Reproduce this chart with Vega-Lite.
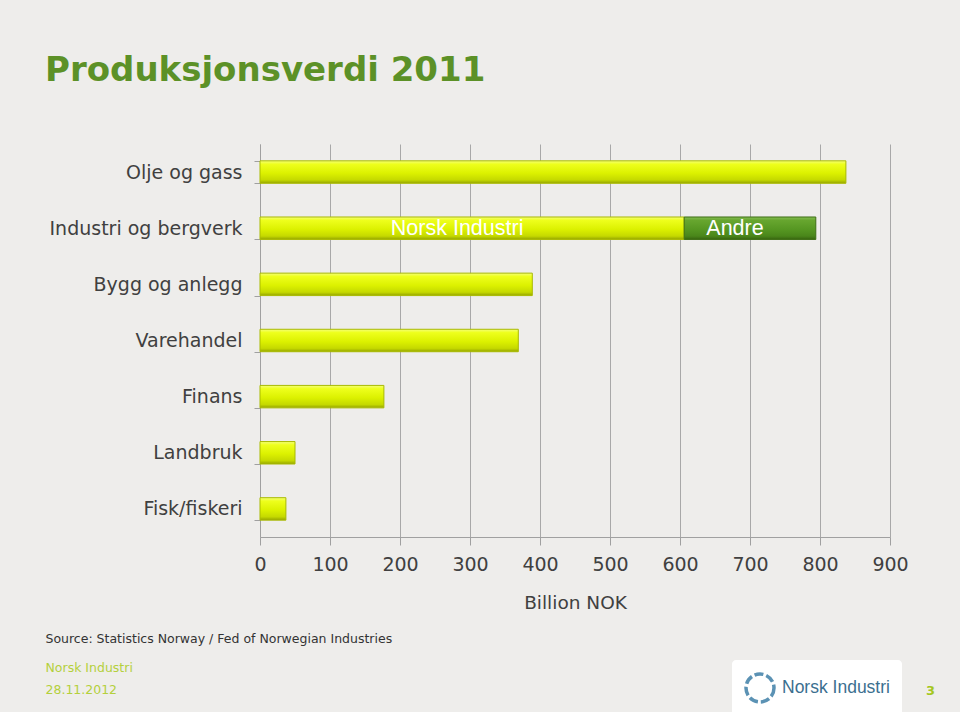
{
  "$schema": "https://vega.github.io/schema/vega-lite/v6.json",
  "width": 630,
  "height": 393,
  "autosize": {"type": "none"},
  "padding": {"left": 260, "top": 144, "right": 70, "bottom": 175},
  "background": "#EEEDEB",
  "title": {
    "text": "Produksjonsverdi 2011",
    "anchor": "start",
    "frame": "group",
    "dx": -215,
    "offset": 20,
    "baseline": "alphabetic",
    "font": "DejaVu Sans",
    "fontWeight": "bold",
    "fontSize": 34,
    "color": "#5C9127"
  },
  "config": {"view": {"stroke": null}},
  "data": {
    "values": [
      {"cat": "Olje og gass", "seg": "Total", "part": 1, "value": 837},
      {"cat": "Industri og bergverk", "seg": "Norsk Industri", "part": 1, "value": 606},
      {"cat": "Industri og bergverk", "seg": "Andre", "part": 2, "value": 188},
      {"cat": "Bygg og anlegg", "seg": "Total", "part": 1, "value": 389},
      {"cat": "Varehandel", "seg": "Total", "part": 1, "value": 369},
      {"cat": "Finans", "seg": "Total", "part": 1, "value": 177},
      {"cat": "Landbruk", "seg": "Total", "part": 1, "value": 50},
      {"cat": "Fisk/fiskeri", "seg": "Total", "part": 1, "value": 37}
    ]
  },
  "layer": [
    {
      "mark": {"type": "bar", "strokeWidth": 1},
      "encoding": {
        "y": {
          "field": "cat",
          "type": "nominal",
          "sort": ["Olje og gass", "Industri og bergverk", "Bygg og anlegg", "Varehandel", "Finans", "Landbruk", "Fisk/fiskeri"],
          "scale": {"paddingInner": 0.6, "paddingOuter": 0.3},
          "axis": {
            "orient": "left",
            "title": "Source: Statistics Norway / Fed of Norwegian Industries",
            "titleAngle": 0,
            "titleX": -215,
            "titleY": 498,
            "titleAlign": "left",
            "titleBaseline": "alphabetic",
            "titleFont": "DejaVu Sans",
            "titleFontSize": 12.5,
            "titleFontWeight": "normal",
            "titleColor": "#333333",
            "labelFont": "DejaVu Sans",
            "labelFontSize": 19,
            "labelColor": "#404040",
            "labelPadding": 12,
            "labelLimit": 300,
            "tickSize": 6,
            "tickBand": "extent",
            "tickColor": "#A0A0A0",
            "domainColor": "#A0A0A0",
            "grid": false
          }
        },
        "x": {
          "field": "value",
          "type": "quantitative",
          "stack": "zero",
          "scale": {"domain": [0, 900], "nice": false},
          "axis": {
            "orient": "bottom",
            "values": [0, 100, 200, 300, 400, 500, 600, 700, 800, 900],
            "title": "Billion NOK",
            "titleY": 71,
            "titleBaseline": "alphabetic",
            "titleFont": "DejaVu Sans",
            "titleFontSize": 18.5,
            "titleFontWeight": "normal",
            "titleColor": "#404040",
            "labelFont": "DejaVu Sans",
            "labelFontSize": 19,
            "labelColor": "#404040",
            "labelPadding": 10,
            "labelFlush": false,
            "labelOverlap": false,
            "tickSize": 8,
            "tickColor": "#A0A0A0",
            "domainColor": "#A0A0A0",
            "grid": true,
            "gridColor": "#A8A8A8",
            "gridWidth": 1
          }
        },
        "order": {"field": "part", "type": "quantitative"},
        "detail": {"field": "seg"},
        "color": {
          "condition": {
            "test": "datum.seg === 'Andre'",
            "value": {
              "gradient": "linear", "x1": 0, "y1": 0, "x2": 0, "y2": 1,
              "stops": [
                {"offset": 0, "color": "#84BF52"},
                {"offset": 0.15, "color": "#67A62F"},
                {"offset": 0.55, "color": "#569722"},
                {"offset": 0.85, "color": "#4A861A"},
                {"offset": 1, "color": "#386510"}
              ]
            }
          },
          "value": {
            "gradient": "linear", "x1": 0, "y1": 0, "x2": 0, "y2": 1,
            "stops": [
              {"offset": 0, "color": "#F4FF78"},
              {"offset": 0.15, "color": "#EEFF1C"},
              {"offset": 0.55, "color": "#DCF100"},
              {"offset": 0.85, "color": "#C5D900"},
              {"offset": 1, "color": "#95A500"}
            ]
          }
        },
        "stroke": {
          "condition": {"test": "datum.seg === 'Andre'", "value": "#3D6E14"},
          "value": "#A9BA00"
        }
      }
    },
    {
      "transform": [{"filter": "datum.seg !== 'Total'"}],
      "mark": {"type": "text", "font": "Liberation Sans", "fontSize": 21.5, "dx": -15, "dy": 1, "baseline": "middle"},
      "encoding": {
        "y": {
          "field": "cat",
          "type": "nominal",
          "sort": ["Olje og gass", "Industri og bergverk", "Bygg og anlegg", "Varehandel", "Finans", "Landbruk", "Fisk/fiskeri"],
          "axis": {
            "orient": "right",
            "title": ["Norsk Industri", "28.11.2012"],
            "titleAngle": 0,
            "titleX": -845,
            "titleY": 527,
            "titleAlign": "left",
            "titleBaseline": "alphabetic",
            "titleLineHeight": 22,
            "titleFont": "DejaVu Sans",
            "titleFontSize": 12.5,
            "titleFontWeight": "normal",
            "titleColor": "#B4D03C",
            "labels": false,
            "ticks": false,
            "domain": false,
            "grid": false
          }
        },
        "x": {
          "field": "value",
          "type": "quantitative",
          "stack": "zero",
          "bandPosition": 0.5,
          "axis": {
            "orient": "top",
            "title": null,
            "values": [900],
            "labelExpr": "'3'",
            "labelOffset": 40,
            "labelPadding": -546,
            "labelBaseline": "middle",
            "labelFont": "DejaVu Sans",
            "labelFontWeight": "bold",
            "labelFontSize": 13,
            "labelColor": "#A5C71F",
            "labelFlush": false,
            "labelOverlap": false,
            "ticks": false,
            "tickSize": 0,
            "domain": false,
            "grid": false
          }
        },
        "order": {"field": "part", "type": "quantitative"},
        "detail": {"field": "seg"},
        "color": {
          "field": "seg",
          "type": "nominal",
          "scale": {"domain": ["Norsk Industri", "Andre"], "range": ["#FFFFFF", "#FFFFFF"]},
          "legend": {
            "orient": "none",
            "legendX": 472,
            "legendY": 516,
            "values": ["Norsk Industri"],
            "title": null,
            "fillColor": "#FFFFFF",
            "cornerRadius": 4,
            "padding": 12,
            "symbolType": "circle",
            "symbolSize": 784,
            "symbolStrokeWidth": 3.5,
            "symbolDash": [9, 3],
            "labelOffset": 6,
            "labelFont": "Liberation Sans",
            "labelFontSize": 17.5,
            "labelColor": "#3B6F8F",
            "labelLimit": 200,
            "encode": {
              "symbols": {
                "update": {
                  "fill": {"value": "transparent"},
                  "stroke": {"value": "#5B92B4"},
                  "strokeWidth": {"value": 3.5}
                }
              }
            }
          }
        },
        "text": {"field": "seg"}
      }
    }
  ],
  "resolve": {"axis": {"x": "independent", "y": "independent"}}
}
